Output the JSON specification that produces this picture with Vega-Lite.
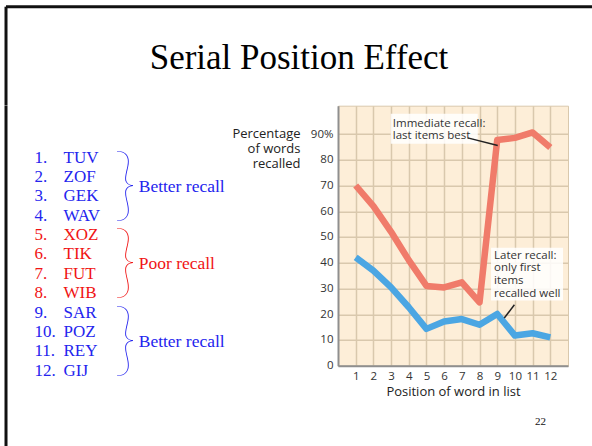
{
  "$schema": "https://vega.github.io/schema/vega-lite/v6.json",
  "padding": {"left": 4, "top": 4.7, "right": 0, "bottom": 0},
  "background": "white",
  "config": {
    "view": {"stroke": null},
    "axis": {
      "grid": true, "gridColor": "#d9c8ad", "gridWidth": 1.5, "ticks": false, "labelOverlap": false,
      "domainColor": "#8f8f8f", "domainWidth": 2,
      "labelFont": "Open Sans", "labelFontSize": 11.5, "labelColor": "#333333", "labelPadding": 5,
      "titleFont": "Open Sans", "titleFontSize": 13, "titleFontWeight": "normal", "titleColor": "#222222"
    }
  },
  "bounds": "flush",
  "spacing": 0,
  "resolve": {"scale": {"color": "independent", "x": "independent", "y": "independent"}},
  "datasets": {
    "recall": [
      {"condition": "Immediate recall", "position": 1, "percent": 70},
      {"condition": "Immediate recall", "position": 2, "percent": 62},
      {"condition": "Immediate recall", "position": 3, "percent": 52},
      {"condition": "Immediate recall", "position": 4, "percent": 41},
      {"condition": "Immediate recall", "position": 5, "percent": 31},
      {"condition": "Immediate recall", "position": 6, "percent": 30.4},
      {"condition": "Immediate recall", "position": 7, "percent": 32.4},
      {"condition": "Immediate recall", "position": 8, "percent": 24.6},
      {"condition": "Immediate recall", "position": 9, "percent": 87.7},
      {"condition": "Immediate recall", "position": 10, "percent": 88.5},
      {"condition": "Immediate recall", "position": 11, "percent": 90.6},
      {"condition": "Immediate recall", "position": 12, "percent": 84.8},
      {"condition": "Later recall", "position": 1, "percent": 42.1},
      {"condition": "Later recall", "position": 2, "percent": 36.9},
      {"condition": "Later recall", "position": 3, "percent": 30.4},
      {"condition": "Later recall", "position": 4, "percent": 22.7},
      {"condition": "Later recall", "position": 5, "percent": 14.3},
      {"condition": "Later recall", "position": 6, "percent": 17.2},
      {"condition": "Later recall", "position": 7, "percent": 18.1},
      {"condition": "Later recall", "position": 8, "percent": 15.9},
      {"condition": "Later recall", "position": 9, "percent": 20.1},
      {"condition": "Later recall", "position": 10, "percent": 11.7},
      {"condition": "Later recall", "position": 11, "percent": 12.6},
      {"condition": "Later recall", "position": 12, "percent": 11.0}
    ],
    "words": [
      {"n": 1, "num": "1.", "word": "TUV", "block": 1, "recall": "Better recall"},
      {"n": 2, "num": "2.", "word": "ZOF", "block": 1, "recall": "Better recall"},
      {"n": 3, "num": "3.", "word": "GEK", "block": 1, "recall": "Better recall"},
      {"n": 4, "num": "4.", "word": "WAV", "block": 1, "recall": "Better recall"},
      {"n": 5, "num": "5.", "word": "XOZ", "block": 2, "recall": "Poor recall"},
      {"n": 6, "num": "6.", "word": "TIK", "block": 2, "recall": "Poor recall"},
      {"n": 7, "num": "7.", "word": "FUT", "block": 2, "recall": "Poor recall"},
      {"n": 8, "num": "8.", "word": "WIB", "block": 2, "recall": "Poor recall"},
      {"n": 9, "num": "9.", "word": "SAR", "block": 3, "recall": "Better recall"},
      {"n": 10, "num": "10.", "word": "POZ", "block": 3, "recall": "Better recall"},
      {"n": 11, "num": "11.", "word": "REY", "block": 3, "recall": "Better recall"},
      {"n": 12, "num": "12.", "word": "GIJ", "block": 3, "recall": "Better recall"}
    ]
  },
  "vconcat": [
    {
      "width": 586,
      "height": 98.8,
      "data": {"values": [{"title": "Serial Position Effect"}]},
      "layer": [
        {
          "mark": {"type": "rule", "color": "#111111", "strokeWidth": 3},
          "encoding": {"y": {"datum": 0, "type": "quantitative", "scale": {"domain": [0, 98.8], "reverse": true, "nice": false, "zero": false}, "axis": null}}
        },
        {
          "mark": {"type": "rule", "color": "#111111", "strokeWidth": 3},
          "encoding": {"x": {"datum": 0, "type": "quantitative", "scale": {"domain": [0, 100], "nice": false, "zero": false}, "axis": null}}
        },
        {
          "mark": {"type": "text", "align": "center", "baseline": "alphabetic", "font": "Liberation Serif", "fontSize": 35, "color": "#000000"},
          "encoding": {
            "y": {"datum": 62.8, "type": "quantitative", "axis": null},
            "text": {"field": "title"}
          }
        }
      ]
    },
    {
      "spacing": 0,
      "bounds": "flush",
      "resolve": {"scale": {"color": "independent", "x": "independent", "y": "independent"}},
      "hconcat": [
        {
          "width": 331.8,
          "height": 341.2,
          "data": {"name": "words"},
          "encoding": {
            "y": {"field": "n", "type": "quantitative", "scale": {"domain": [-1.686, 15.94], "reverse": true, "nice": false, "zero": false}, "axis": null},
            "color": {"field": "recall", "type": "nominal", "scale": {"domain": ["Better recall", "Poor recall"], "range": ["#2424ee", "#f01414"]}, "legend": null}
          },
          "layer": [
            {
              "data": {"values": [{}]},
              "mark": {"type": "rule", "color": "#111111", "strokeWidth": 3},
              "encoding": {"x": {"datum": 0, "type": "quantitative", "scale": {"domain": [0, 100], "nice": false, "zero": false}, "axis": null}, "y": null, "color": null}
            },
            {
              "mark": {"type": "text", "align": "left", "baseline": "middle", "font": "Liberation Serif", "fontSize": 17},
              "encoding": {
                "x": {"datum": 8.59, "type": "quantitative", "axis": null},
                "text": {"field": "num"}
              }
            },
            {
              "mark": {"type": "text", "align": "left", "baseline": "middle", "font": "Liberation Serif", "fontSize": 17},
              "encoding": {
                "x": {"datum": 17.33, "type": "quantitative", "axis": null},
                "text": {"field": "word"}
              }
            },
            {
              "transform": [{"aggregate": [{"op": "mean", "field": "n", "as": "n"}], "groupby": ["block", "recall"]}],
              "layer": [
                {
                  "mark": {"type": "text", "align": "left", "baseline": "middle", "font": "Lato", "fontWeight": 100, "fontSize": 80, "text": "}"},
                  "encoding": {"x": {"datum": 32.4, "type": "quantitative", "axis": null}}
                },
                {
                  "mark": {"type": "text", "align": "left", "baseline": "middle", "font": "Liberation Serif", "fontSize": 17.5},
                  "encoding": {"x": {"datum": 40.0, "type": "quantitative", "axis": null}, "text": {"field": "recall"}}
                }
              ]
            }
          ]
        },
        {
          "width": 230,
          "height": 260,
          "view": {"fill": "#fdeed8", "stroke": "#d9c8ad", "strokeWidth": 1},
          "layer": [
            {
              "data": {"values": [{}]},
              "mark": {"type": "rect", "fill": "#ffffff", "opacity": 0.85},
              "encoding": {
                "x": {"datum": 2.98, "type": "quantitative"},
                "x2": {"datum": 7.9},
                "y": {"datum": 97.9, "type": "quantitative"},
                "y2": {"datum": 86.2}
              }
            },
            {
              "data": {"values": [{}]},
              "mark": {"type": "rect", "fill": "#ffffff", "opacity": 0.85},
              "encoding": {
                "x": {"datum": 8.65, "type": "quantitative"},
                "x2": {"datum": 12.72},
                "y": {"datum": 45.8, "type": "quantitative"},
                "y2": {"datum": 25.3}
              }
            },
            {
              "data": {"name": "recall"},
              "mark": {"type": "line", "strokeWidth": 6.5, "strokeJoin": "round"},
              "encoding": {
                "x": {"field": "position", "type": "quantitative", "scale": {"domain": [0, 13], "nice": false, "zero": false},
                      "axis": {"values": [1,2,3,4,5,6,7,8,9,10,11,12], "tickCount": 24, "format": "d", "labelAngle": 0, "title": "Position of word in list", "titlePadding": 3}},
                "y": {"field": "percent", "type": "quantitative", "scale": {"domain": [0, 101], "nice": false, "zero": false},
                      "axis": {"values": [0,10,20,30,40,50,60,70,80,90], "tickCount": 20, "format": "d", "labelExpr": "datum.value == 90 ? '90%' : datum.label",
                               "title": ["Percentage", "of words", "recalled"], "titleAngle": 0, "titleAlign": "right",
                               "titleBaseline": "top", "titleX": -38, "titleY": 22, "titleLineHeight": 15}},
                "color": {"field": "condition", "type": "nominal", "scale": {"domain": ["Immediate recall", "Later recall"], "range": ["#f07b6a", "#4ba6e3"]}, "legend": null}
              }
            },
            {
              "data": {"values": [{}]},
              "mark": {"type": "rule", "color": "#222222", "strokeWidth": 1.5},
              "encoding": {
                "x": {"datum": 7.33, "type": "quantitative"},
                "y": {"datum": 88.5, "type": "quantitative"},
                "x2": {"datum": 9.03},
                "y2": {"datum": 85.5}
              }
            },
            {
              "data": {"values": [{}]},
              "mark": {"type": "rule", "color": "#222222", "strokeWidth": 1.5},
              "encoding": {
                "x": {"datum": 9.97, "type": "quantitative"},
                "y": {"datum": 23.7, "type": "quantitative"},
                "x2": {"datum": 9.4},
                "y2": {"datum": 18.5}
              }
            },
            {
              "data": {"values": [{}]},
              "mark": {"type": "text", "align": "left", "baseline": "top", "font": "Open Sans", "fontSize": 11.5, "lineHeight": 12.5, "color": "#333333",
                       "text": ["Immediate recall:", "last items best"]},
              "encoding": {
                "x": {"datum": 3.1, "type": "quantitative"},
                "y": {"datum": 96.3, "type": "quantitative"}
              }
            },
            {
              "data": {"values": [{}]},
              "mark": {"type": "text", "align": "left", "baseline": "top", "font": "Open Sans", "fontSize": 11.5, "lineHeight": 12.7, "color": "#333333",
                       "text": ["Later recall:", "only first", "items", "recalled well"]},
              "encoding": {
                "x": {"datum": 8.82, "type": "quantitative"},
                "y": {"datum": 45.1, "type": "quantitative"}
              }
            },
            {
              "data": {"values": [{"slide": "22"}]},
              "mark": {"type": "text", "align": "center", "baseline": "middle", "font": "Liberation Serif", "fontSize": 11, "color": "#111111"},
              "encoding": {
                "x": {"datum": 11.45, "type": "quantitative"},
                "y": {"datum": -21.8, "type": "quantitative"},
                "text": {"field": "slide"}
              }
            }
          ]
        }
      ]
    }
  ]
}
